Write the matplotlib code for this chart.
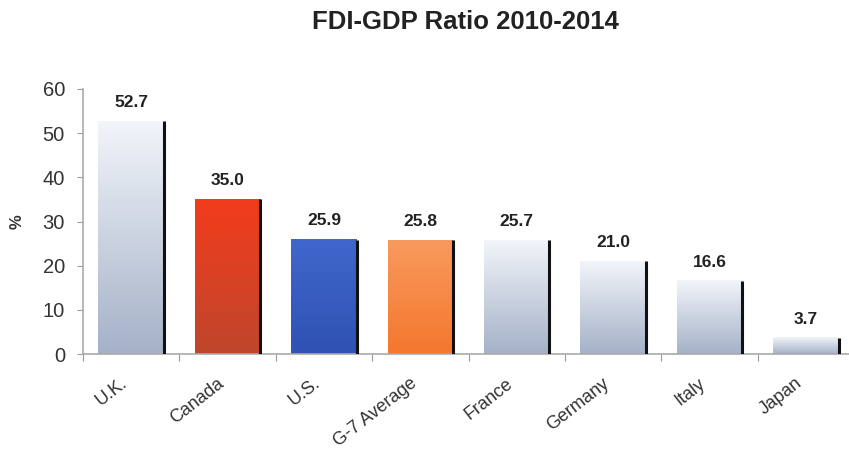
import numpy as np
import matplotlib
matplotlib.use("Agg")
import matplotlib.pyplot as plt
import matplotlib.transforms as mtransforms
from matplotlib.colors import LinearSegmentedColormap

categories = ["U.K.", "Canada", "U.S.", "G-7 Average", "France", "Germany", "Italy", "Japan"]
values = [52.7, 35.0, 25.9, 25.8, 25.7, 21.0, 16.6, 3.7]
title = "FDI-GDP Ratio 2010-2014"
ylabel = "%"
yticks = [0, 10, 20, 30, 40, 50, 60]

grey_top, grey_bot = "#f2f5fa", "#a4b1c7"
colors = [
    (grey_top, grey_bot),
    ("#f23c1c", "#bf462c"),
    ("#4067cc", "#2f52b3"),
    ("#f89a5e", "#f4772d"),
    (grey_top, grey_bot),
    (grey_top, grey_bot),
    (grey_top, grey_bot),
    (grey_top, grey_bot),
]

plt.rcParams["font.family"] = ["Liberation Sans", "DejaVu Sans"]

fig = plt.figure(figsize=(8.49, 4.54), dpi=100)
ax = fig.add_axes([83 / 849, 1 - 354 / 454, 771 / 849, 265 / 454])

x = np.arange(len(categories))
width = 0.68
bars = ax.bar(x, values, width=width, color="none", edgecolor="none", zorder=2)

for b, (ctop, cbot), v in zip(bars, colors, values):
    x0, y0 = b.get_x(), b.get_y()
    w, h = b.get_width(), b.get_height()
    cmap = LinearSegmentedColormap.from_list("g", [cbot, ctop])
    grad = np.linspace(0, 1, 256).reshape(-1, 1)
    ax.imshow(grad, cmap=cmap, origin="lower", aspect="auto",
              extent=[x0, x0 + w, y0, y0 + h], zorder=2)
    ax.vlines(x0 + w, y0, y0 + h, color="#111111", linewidth=2.2, zorder=3)
    ax.annotate(f"{v:.1f}", (x0 + w / 2, y0 + h), xytext=(0, 8),
                textcoords="offset points", ha="center", va="bottom",
                fontsize=12.5, fontweight="bold", color="#222222")

ax.set_xlim(-0.5, len(categories) - 0.5)
ax.set_ylim(0, 60)
ax.set_yticks(yticks)
ax.tick_params(axis="y", labelsize=14.5, length=4, color="#999999", labelcolor="#333333",
               direction="out", pad=9)
ax.set_xticks(np.arange(len(categories) + 1) - 0.5, minor=False)
ax.set_xticklabels([])
ax.tick_params(axis="x", length=5, color="#999999", direction="out")
ax.set_xticks(x, minor=True)
labels = ax.set_xticklabels(categories, minor=True, rotation=38, ha="right",
                            rotation_mode="anchor", fontsize=13, color="#333333")
ax.tick_params(axis="x", which="minor", length=0, pad=15)
off = mtransforms.ScaledTranslation(-11 / 100, 0, fig.dpi_scale_trans)
for lab in labels:
    lab.set_transform(lab.get_transform() + off)

for s in ["top", "right"]:
    ax.spines[s].set_visible(False)
for s in ["left", "bottom"]:
    ax.spines[s].set_color("#aaaaaa")
    ax.spines[s].set_linewidth(1.2)

ax.set_ylabel(ylabel, fontsize=12, fontweight="bold", color="#333333")
ax.yaxis.set_label_coords(-58 / 771, 0.5)
fig.text(465 / 849, 1 - 22 / 454, title, ha="center", va="center",
         fontsize=18.5, fontweight="bold", color="#222222")

fig.savefig("out.png", dpi=100)
